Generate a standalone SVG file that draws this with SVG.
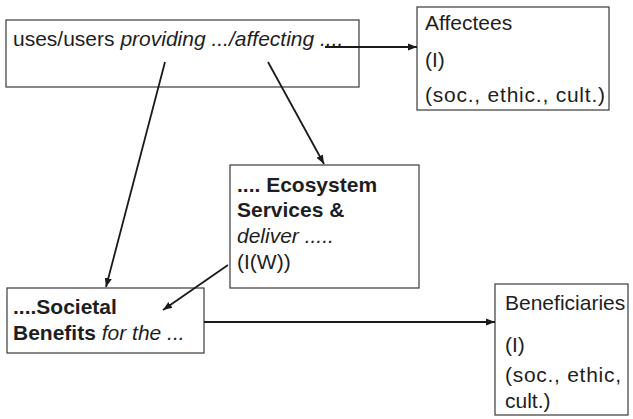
<svg xmlns="http://www.w3.org/2000/svg" width="633" height="419" viewBox="0 0 633 419">
<style>
.box{fill:#fff;stroke:#3a3a3a;stroke-width:1.2}
text{font-family:"Liberation Sans",Arial,sans-serif;font-size:21px;fill:#1e1e1e}
.b{font-weight:bold}
.i{font-style:italic}
.c{stroke:#1a1a1a;stroke-width:1.8;fill:none;marker-end:url(#ah)}
</style>
<defs>
<marker id="ah" viewBox="0 0 10 10" refX="10" refY="5" markerWidth="5" markerHeight="5" orient="auto" markerUnits="strokeWidth">
<path d="M0,1 L10,5 L0,9 Z" fill="#1a1a1a"/>
</marker>
</defs>
<g id="uses">
<rect class="box" x="6" y="20" width="353" height="67"/>
<text x="13" y="46">uses/users <tspan class="i">providing .../affecting</tspan> <tspan class="i">....</tspan></text>
</g>
<g id="affectees">
<rect class="box" x="417" y="7" width="192" height="103"/>
<text x="425" y="30">Affectees</text>
<text x="425" y="67">(I)</text>
<text x="425" y="102" textLength="180">(soc., ethic., cult.)</text>
</g>
<g id="ecosystem">
<rect class="box" x="230" y="165" width="189" height="123"/>
<text class="b" x="237" y="192"> .... Ecosystem</text>
<text class="b" x="237" y="217">Services &amp;</text>
<text class="i" x="237" y="243">deliver .....</text>
<text x="237" y="269">(I(W))</text>
</g>
<g id="societal">
<rect class="box" x="7" y="288" width="197" height="65"/>
<text class="b" x="13" y="314">....Societal</text>
<text x="13" y="340"><tspan class="b">Benefits</tspan> <tspan class="i">for the ...</tspan></text>
</g>
<g id="beneficiaries">
<rect class="box" x="495" y="284" width="133" height="131"/>
<text x="505" y="310">Beneficiaries</text>
<text x="505" y="352">(I)</text>
<text x="505" y="382" textLength="116">(soc., ethic,</text>
<text x="505" y="408">cult.)</text>
</g>
<g id="connectors">
<line class="c" x1="325" y1="47" x2="417" y2="47"/>
<line class="c" x1="165" y1="62" x2="106" y2="287"/>
<line class="c" x1="268" y1="62" x2="324" y2="164"/>
<line class="c" x1="228" y1="265" x2="163" y2="310"/>
<line class="c" x1="204" y1="322" x2="495" y2="322"/>
</g>
</svg>
